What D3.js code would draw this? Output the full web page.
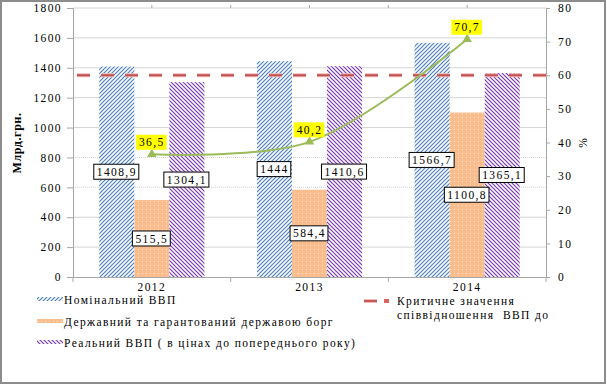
<!DOCTYPE html>
<html>
<head>
<meta charset="utf-8">
<script src="https://cdn.jsdelivr.net/npm/d3@7"></script>
<style>
  body { margin: 0; background: #fff; }
  svg text { font-family: "Liberation Serif", "Times New Roman", serif; fill: #000; white-space: pre; }
  .axis path, .axis line { stroke: #a6a6a6; }
</style>
</head>
<body>
<div class="chart"></div>
<script>
// Дані
const years = ['2012', '2013', '2014'];
const nominalGdp = [1408.9, 1444, 1566.7];
const publicDebt = [515.5, 584.4, 1100.8];
const realGdp = [1304.1, 1410.6, 1365.1];
const debtRatio = [36.5, 40.2, 70.7];
const criticalRatio = 60;
const leftTicks = [0, 200, 400, 600, 800, 1000, 1200, 1400, 1600, 1800];
const rightTicks = [0, 10, 20, 30, 40, 50, 60, 70, 80];

const fmt = v => String(v).replace('.', ',');
const serif = '"Liberation Serif", "Times New Roman", serif';

const W = 607, H = 385;
const margin = { top: 8, right: 61, bottom: 108, left: 73 };
const chart_width = W - margin.left - margin.right;
const chart_height = H - margin.top - margin.bottom;

const svg = d3.select('.chart').append('svg')
  .attr('width', W).attr('height', H);

// патерни заливки
const defs = svg.append('defs');
function hatch(id, color, up) {
  const p = defs.append('pattern').attr('id', id)
    .attr('patternUnits', 'userSpaceOnUse').attr('width', 4).attr('height', 4);
  p.append('rect').attr('width', 4).attr('height', 4).attr('fill', '#fff');
  const d = up ? 'M-1,1 L1,-1 M0,4 L4,0 M3,5 L5,3' : 'M-1,3 L1,5 M0,0 L4,4 M3,-1 L5,1';
  p.append('path').attr('d', d).attr('stroke', color).attr('stroke-width', 1.2);
}
hatch('blueHatch', '#4a7fc4', true);
hatch('purpleHatch', '#7a36b8', false);
const dots = defs.append('pattern').attr('id', 'orangeDots')
  .attr('patternUnits', 'userSpaceOnUse').attr('width', 4).attr('height', 4);
dots.append('rect').attr('width', 4).attr('height', 4).attr('fill', '#f9bd8e');
dots.append('rect').attr('x', 1).attr('y', 1).attr('width', 1).attr('height', 1).attr('fill', '#fde3cf');

const series = [
  { key: 'nominal', values: nominalGdp, fill: 'url(#blueHatch)' },
  { key: 'debt', values: publicDebt, fill: 'url(#orangeDots)' },
  { key: 'real', values: realGdp, fill: 'url(#purpleHatch)' }
];

// рамка
svg.append('rect').attr('x', 1).attr('y', 1).attr('width', W - 3).attr('height', H - 3)
  .attr('fill', '#fff').attr('stroke', '#8c8c8c').attr('stroke-width', 2);

const g = svg.append('g').attr('transform', `translate(${margin.left},${margin.top})`);

// шкали
const x0 = d3.scaleBand().domain(years).range([0, chart_width]);
const x1 = d3.scaleBand().domain(series.map(s => s.key))
  .range([0, x0.bandwidth()]).paddingInner(0).paddingOuter(0.75);
const y = d3.scaleLinear().domain([0, 1800]).range([chart_height, 0]);
const y2 = d3.scaleLinear().domain([0, 80]).range([chart_height, 0]);

// сітка
g.append('g').selectAll('line').data(leftTicks.filter(t => t > 0)).join('line')
  .attr('x1', 0).attr('x2', chart_width)
  .attr('y1', d => y(d)).attr('y2', d => y(d))
  .attr('stroke', '#d4d4d4').attr('stroke-width', 1)
  .attr('stroke-dasharray', d => (d === 600 || d === 800) ? '1,1' : null);

// стовпчики
const barGroups = g.append('g').selectAll('g').data(series).join('g');
barGroups.selectAll('rect').data(s => s.values.map((v, i) => ({ key: s.key, year: years[i], v, fill: s.fill })))
  .join('rect')
  .attr('x', d => x0(d.year) + x1(d.key))
  .attr('y', d => y(d.v))
  .attr('width', x1.bandwidth())
  .attr('height', d => chart_height - y(d.v))
  .attr('fill', d => d.fill);

// критичне значення
const critLine = d3.line()([[4, y2(criticalRatio)], [chart_width, y2(criticalRatio)]]);
g.append('path').attr('d', critLine).attr('stroke', '#f2b9b8').attr('stroke-width', 4)
  .attr('stroke-dasharray', '13,11').attr('fill', 'none');
g.append('path').attr('d', critLine).attr('stroke', '#c0504d').attr('stroke-width', 1.8)
  .attr('stroke-dasharray', '13,11').attr('fill', 'none');

// осі
const yAxis = d3.axisLeft(y).tickValues(leftTicks).tickFormat(d3.format('d')).tickSize(6).tickPadding(5);
g.append('g').attr('class', 'axis').call(yAxis);
const y2Axis = d3.axisRight(y2).tickValues(rightTicks).tickFormat(d3.format('d')).tickSize(4).tickPadding(8);
g.append('g').attr('class', 'axis').attr('transform', `translate(${chart_width},0)`).call(y2Axis);
const xAxis = d3.axisBottom(x0).tickSize(0).tickPadding(6);
g.append('g').attr('class', 'axis').attr('transform', `translate(0,${chart_height})`).call(xAxis);
g.selectAll('.axis').attr('font-family', serif).attr('font-size', 11.5);
g.selectAll('.axis .domain').attr('stroke', '#a6a6a6');
g.selectAll('.axis text').style('letter-spacing', '1.4px');

// поділки між категоріями
const bounds = years.map(d => x0(d)).concat([chart_width]);
g.append('g').selectAll('line').data(bounds).join('line')
  .attr('x1', d => d).attr('x2', d => d)
  .attr('y1', chart_height).attr('y2', chart_height + 5).attr('stroke', '#a6a6a6');
const topTicks = bounds.concat(years.map(d => x0(d) + x0.bandwidth() / 2))
  .filter(d => d > 0 && d < chart_width);
g.append('g').selectAll('line').data(topTicks).join('line')
  .attr('x1', d => d).attr('x2', d => d)
  .attr('y1', 0).attr('y2', -3).attr('stroke', '#a6a6a6');

// лінія співвідношення
const pts = debtRatio.map((v, i) => [x0(years[i]) + x0.bandwidth() / 2, y2(v)]);
g.append('path').attr('d', d3.line().curve(d3.curveCatmullRom.alpha(0.5))(pts))
  .attr('fill', 'none').attr('stroke', '#9bbb59').attr('stroke-width', 2);
g.append('g').selectAll('path').data(pts).join('path')
  .attr('transform', d => `translate(${d[0]},${d[1]})`)
  .attr('d', d3.symbol(d3.symbolTriangle, 40))
  .attr('fill', '#9bbb59');

// підписи даних
function label(parent, x, yc, text, boxed) {
  const t = parent.append('text').attr('x', x).attr('y', yc).attr('dy', '0.35em')
    .attr('text-anchor', 'middle')
    .style('font-size', '11.5px').style('letter-spacing', '1.4px')
    .text(text);
  const b = t.node().getBBox();
  parent.insert('rect', () => t.node())
    .attr('x', b.x - 3).attr('y', yc - 7.5).attr('width', b.width + 5).attr('height', 15)
    .attr('fill', boxed ? '#fff' : '#ffff00')
    .attr('stroke', boxed ? '#000' : 'none').attr('stroke-width', 1);
}
const labelLayer = g.append('g');
series.forEach(s => {
  s.values.forEach((v, i) => {
    const cx = x0(years[i]) + x1(s.key) + x1.bandwidth() / 2;
    const cy = (y(v) + chart_height) / 2;
    label(labelLayer.append('g'), cx, cy, fmt(v), true);
  });
});
pts.forEach((p, i) => label(labelLayer.append('g'), p[0], p[1] - 12, fmt(debtRatio[i]), false));

// назви осей
svg.append('text').attr('transform', `translate(21,143) rotate(-90)`)
  .attr('text-anchor', 'middle')
  .style('font-size', '12px').style('font-weight', 'bold').style('letter-spacing', '0.6px')
  .text('Млрд.грн.');
svg.append('text').attr('transform', `translate(587,143) rotate(-90)`)
  .attr('text-anchor', 'middle')
  .style('font-size', '11.5px')
  .text('%');

// легенда
const legend = svg.append('g');
const legendRows = [
  { text: 'Номінальний ВВП', fill: 'url(#blueHatch)', y: 304 },
  { text: 'Державний та гарантований державою борг', fill: 'url(#orangeDots)', y: 326 },
  { text: 'Реальний ВВП ( в цінах до попереднього року)', fill: 'url(#purpleHatch)', y: 347 }
];
legendRows.forEach(r => {
  legend.append('rect').attr('x', 37).attr('y', r.y - 7).attr('width', 26).attr('height', 4).attr('fill', r.fill);
  legend.append('text').attr('x', 64).attr('y', r.y)
    .style('font-size', '11.5px').style('letter-spacing', '1.4px').text(r.text);
});
legend.append('line').attr('x1', 364).attr('x2', 377).attr('y1', 301).attr('y2', 301)
  .attr('stroke', '#f2b9b8').attr('stroke-width', 4);
legend.append('line').attr('x1', 364).attr('x2', 377).attr('y1', 301).attr('y2', 301)
  .attr('stroke', '#c0504d').attr('stroke-width', 1.8);
legend.append('rect').attr('x', 384).attr('y', 299).attr('width', 5).attr('height', 4).attr('fill', '#d9625f');
legend.append('text').attr('x', 397).attr('y', 305)
  .style('font-size', '11.5px').style('letter-spacing', '1.4px').text('Критичне значення');
legend.append('text').attr('x', 397).attr('y', 319)
  .style('font-size', '11.5px').style('letter-spacing', '1.4px').text('співвідношення  ВВП до');
</script>
</body>
</html>
